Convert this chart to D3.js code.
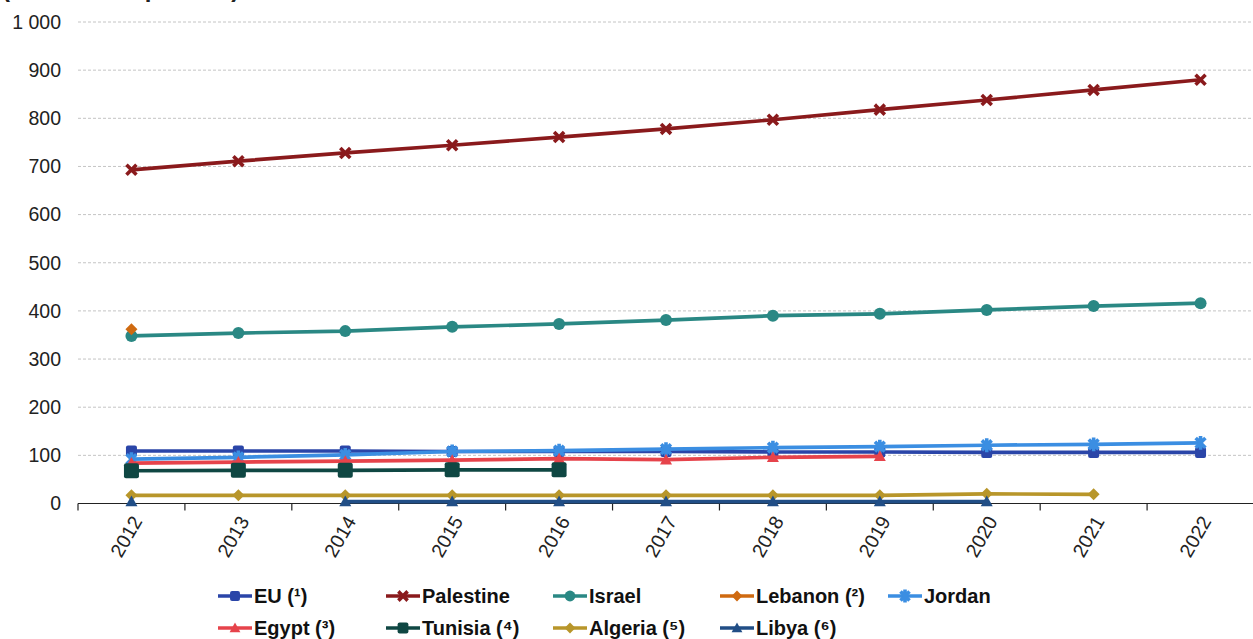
<!DOCTYPE html>
<html>
<head>
<meta charset="utf-8">
<script src="https://cdn.jsdelivr.net/npm/d3@7"></script>
<style>
  html, body { margin: 0; padding: 0; background: #fff; }
  svg { display: block; }
  text { font-family: "Liberation Sans", Arial, sans-serif; }
</style>
</head>
<body>
<svg id="chart" width="1253" height="639"></svg>
<script>
// Population density, inhabitants per km²
const years = ["2012", "2013", "2014", "2015", "2016", "2017", "2018", "2019", "2020", "2021", "2022"];
const yTicks = [0, 100, 200, 300, 400, 500, 600, 700, 800, 900, 1000];

const eu        = [109, 109, 109, 108, 108, 108, 107, 107, 106, 106, 106];
const palestine = [693, 711, 728, 744, 761, 778, 797, 818, 838, 859, 880];
const israel    = [348, 354, 358, 367, 373, 381, 390, 394, 402, 410, 416];
const lebanon   = [362, null, null, null, null, null, null, null, null, null, null];
const jordan    = [92, 96, 101, 108, 110, 113, 116, 118, 121, 123, 126];
const egypt     = [84, 86, 88, 90, 93, 91, 96, 98, null, null, null];
const tunisia   = [68, 69, 69, 70, 70, null, null, null, null, null, null];
const algeria   = [17, 17, 17, 17, 17, 17, 17, 17, 20, 19, null];
const libya     = [4, null, 4, 4, 4, 4, 4, 4, 4, null, null];

const seriesNames = ["EU (¹)", "Palestine", "Israel", "Lebanon (²)", "Jordan",
                     "Egypt (³)", "Tunisia (⁴)", "Algeria (⁵)", "Libya (⁶)"];

const series = [
  { name: seriesNames[0], values: eu,        color: "#2a45a8", marker: "square", size: 11 },
  { name: seriesNames[1], values: palestine, color: "#8a1a1c", marker: "x",      size: 12 },
  { name: seriesNames[2], values: israel,    color: "#2a8884", marker: "circle", size: 12 },
  { name: seriesNames[3], values: lebanon,   color: "#cf6a10", marker: "diamond",size: 12 },
  { name: seriesNames[4], values: jordan,    color: "#3b8ee2", marker: "star",   size: 12 },
  { name: seriesNames[5], values: egypt,     color: "#e6434b", marker: "triangle", size: 12 },
  { name: seriesNames[6], values: tunisia,   color: "#0f4743", marker: "square", size: 15 },
  { name: seriesNames[7], values: algeria,   color: "#b8962a", marker: "diamond",size: 12 },
  { name: seriesNames[8], values: libya,     color: "#214e86", marker: "triangle", size: 12 }
];

const svg = d3.select("#chart");

const x = d3.scaleBand().domain(years).range([78, 1254]);
const y = d3.scaleLinear().domain([0, 1000]).range([503.5, 22]);
const cx = yr => x(yr) + x.bandwidth() / 2;

const fmt = d3.formatLocale({ decimal: ",", thousands: " ", grouping: [3], currency: ["", "€"] }).format(",d");

// Unit label at the top left (runs past the top edge of the canvas)
svg.append("text")
  .attr("x", 2).attr("y", -3)
  .attr("font-size", 24).attr("font-weight", "bold").attr("fill", "#222")
  .text("(inhabitants per km²)");

// Horizontal gridlines
svg.append("g")
  .selectAll("line")
  .data(yTicks.filter(d => d > 0))
  .join("line")
  .attr("x1", 78).attr("x2", 1253)
  .attr("y1", d => y(d)).attr("y2", d => y(d))
  .attr("stroke", "#c4c4c4").attr("stroke-width", 1)
  .attr("stroke-dasharray", "3,2");

// Y axis labels
const yAxis = d3.axisLeft(y).tickValues(yTicks).tickFormat(fmt).tickSize(0).tickPadding(17);
const gy = svg.append("g").attr("transform", "translate(78,0)").call(yAxis);
gy.select(".domain").remove();
gy.selectAll("text").attr("font-size", 19.5).attr("fill", "#222")
  .style("font-family", "'Liberation Sans', Arial, sans-serif");

// X axis baseline and tick marks at the category boundaries
const gx = svg.append("g").attr("transform", `translate(0,${y(0)})`);
gx.append("line").attr("x1", 78).attr("x2", 1253).attr("y1", 0).attr("y2", 0)
  .attr("stroke", "#222").attr("stroke-width", 1.2);
gx.selectAll("line.tick")
  .data(d3.range(years.length + 1))
  .join("line")
  .attr("class", "tick")
  .attr("x1", i => x(years[0]) + i * x.step())
  .attr("x2", i => x(years[0]) + i * x.step())
  .attr("y1", 0).attr("y2", 7)
  .attr("stroke", "#222").attr("stroke-width", 1.2);
gx.selectAll("text")
  .data(years)
  .join("text")
  .attr("transform", d => `translate(${cx(d) + 7},${15}) rotate(-60)`)
  .attr("text-anchor", "end")
  .attr("dominant-baseline", "middle")
  .attr("font-size", 19.5).attr("fill", "#222")
  .text(d => d);

// Marker drawing
function drawMarker(g, type, size, color) {
  const s = size / 2;
  if (type === "square") {
    g.append("rect").attr("x", -s).attr("y", -s).attr("width", size).attr("height", size)
      .attr("rx", 2).attr("fill", color);
  } else if (type === "circle") {
    g.append("circle").attr("r", s).attr("fill", color);
  } else if (type === "diamond") {
    g.append("path").attr("d", `M0,${-s}L${s},0L0,${s}L${-s},0Z`).attr("fill", color);
  } else if (type === "triangle") {
    g.append("path").attr("d", `M0,${-s}L${s},${s * 0.8}L${-s},${s * 0.8}Z`).attr("fill", color);
  } else if (type === "x") {
    const a = s * 0.62;
    g.append("path").attr("d", `M${-a},${-a}L${a},${a}M${a},${-a}L${-a},${a}`)
      .attr("stroke", color).attr("stroke-width", 3.6).attr("stroke-linecap", "square");
  } else if (type === "star") {
    const a = s * 0.6;
    g.append("path").attr("d", `M${-a},${-a}L${a},${a}M${a},${-a}L${-a},${a}M0,${-s * 0.85}L0,${s * 0.85}`)
      .attr("stroke", color).attr("stroke-width", 3.6).attr("stroke-linecap", "square");
  }
}

// Series lines and markers
const line = d3.line()
  .defined(d => d.v != null)
  .x(d => cx(d.yr))
  .y(d => y(d.v));

series.forEach(s => {
  const pts = years.map((yr, i) => ({ yr, v: s.values[i] }));
  const g = svg.append("g");
  g.append("path")
    .datum(pts)
    .attr("d", line)
    .attr("fill", "none")
    .attr("stroke", s.color)
    .attr("stroke-width", 3.7)
    .attr("stroke-linejoin", "round");
  pts.filter(d => d.v != null).forEach(d => {
    const m = g.append("g").attr("transform", `translate(${cx(d.yr)},${y(d.v)})`);
    drawMarker(m, s.marker, s.size, s.color);
  });
});

// Legend, two rows
const legendCols = [218, 386, 553, 720, 888];
const legendRows = [596, 628];
const legend = svg.append("g");
series.forEach((s, i) => {
  const row = i < 5 ? 0 : 1;
  const col = i < 5 ? i : i - 5;
  const g = legend.append("g").attr("transform", `translate(${legendCols[col]},${legendRows[row]})`);
  g.append("line").attr("x1", 0).attr("x2", 34).attr("y1", 0).attr("y2", 0)
    .attr("stroke", s.color).attr("stroke-width", 3.5);
  const m = g.append("g").attr("transform", "translate(17,0)");
  drawMarker(m, s.marker, Math.min(s.size, 12) * 0.9, s.color);
  g.append("text").attr("x", 36).attr("y", 0)
    .attr("dominant-baseline", "central")
    .attr("font-size", 20).attr("font-weight", "bold").attr("fill", "#111")
    .text(s.name);
});
</script>
</body>
</html>
